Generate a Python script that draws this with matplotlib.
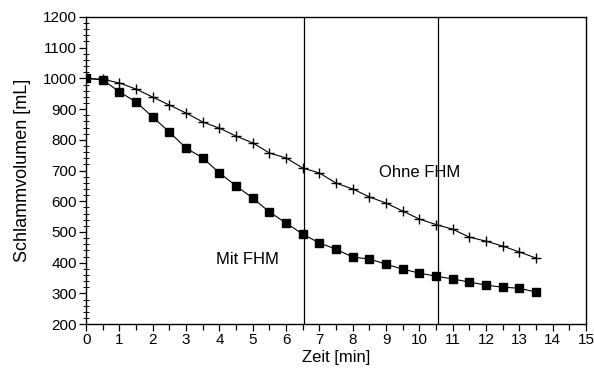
import numpy as np
import matplotlib
matplotlib.use("Agg")
import matplotlib.pyplot as plt
from matplotlib.ticker import MultipleLocator

plt.rcParams['font.family'] = ['Liberation Sans', 'DejaVu Sans']

# time axis (min)
zeit = [0, 0.5, 1, 1.5, 2, 2.5, 3, 3.5, 4, 4.5, 5, 5.5, 6, 6.5,
        7, 7.5, 8, 8.5, 9, 9.5, 10, 10.5, 11, 11.5, 12, 12.5, 13, 13.5]

# sludge volume with flocculant (squares)
mit_fhm = [1000, 995, 956, 923, 874, 825, 773, 741, 692, 650, 610, 565, 529, 493,
           464, 444, 418, 412, 395, 379, 366, 356, 347, 337, 327, 320, 317, 304]

# sludge volume without flocculant (plus)
ohne_fhm = [1000, 997, 985, 965, 939, 913, 887, 858, 838, 812, 790, 757, 741, 708,
            692, 659, 640, 614, 594, 568, 542, 524, 509, 483, 470, 454, 435, 415]

vlines = [6.55, 10.55]

fig = plt.figure(figsize=(5.94, 3.76), dpi=100)
ax = fig.add_axes([0.145, 0.138, 0.8415, 0.817])

ax.plot(zeit, ohne_fhm, color='black', lw=0.8, marker='+', ms=7, mew=1.0)
ax.plot(zeit, mit_fhm, color='black', lw=0.8, marker='s', ms=6.3)

for xv in vlines:
    ax.axvline(xv, color='black', lw=0.9)

ax.text(10.0, 692, 'Ohne FHM', fontsize=12, ha='center', va='center')
ax.text(4.85, 409, 'Mit FHM', fontsize=12, ha='center', va='center')

ax.set_xlim(0, 15)
ax.set_ylim(200, 1200)
ax.xaxis.set_major_locator(MultipleLocator(1))
ax.xaxis.set_minor_locator(MultipleLocator(0.5))
ax.yaxis.set_major_locator(MultipleLocator(100))
ax.yaxis.set_minor_locator(MultipleLocator(20))

ax.tick_params(axis='both', which='major', direction='out', length=5, width=0.9,
               labelsize=11, pad=1.5)
ax.tick_params(axis='x', which='minor', direction='out', length=4, width=0.9)
ax.tick_params(axis='y', which='minor', direction='inout', length=4, width=0.7)

for s in ax.spines.values():
    s.set_linewidth(1.0)

ax.set_xlabel('Zeit [min]', fontsize=12, labelpad=2)
ax.set_ylabel('Schlammvolumen [mL]', fontsize=13, labelpad=9)

fig.savefig('out.png', dpi=100, facecolor='white')
